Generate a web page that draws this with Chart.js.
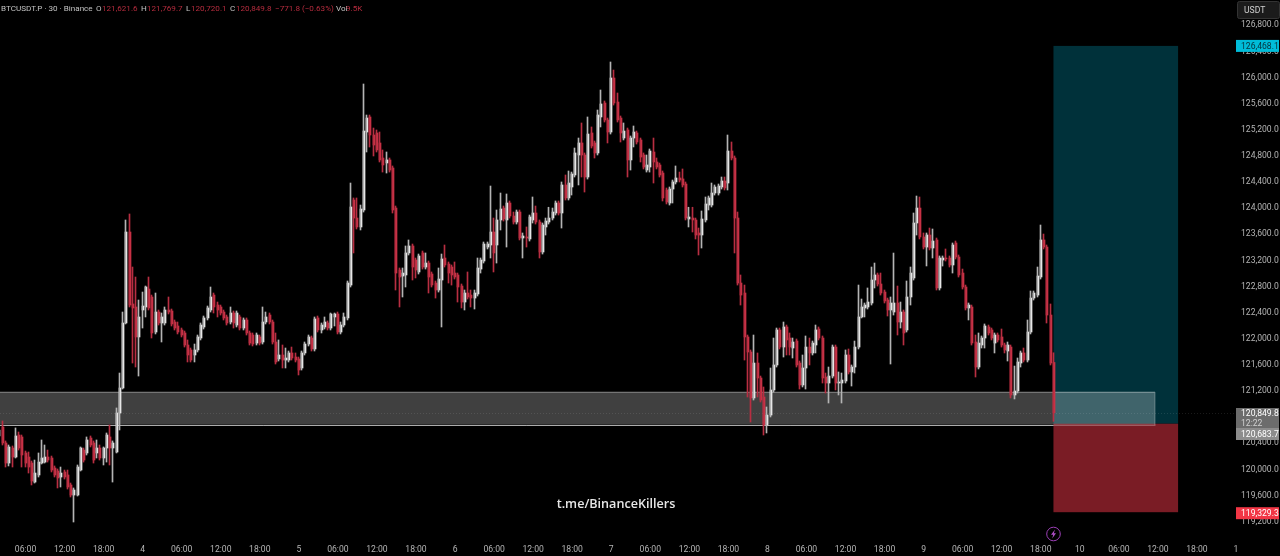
<!DOCTYPE html>
<html>
<head>
<meta charset="utf-8">
<title>BTCUSDT.P 30</title>
<script src="https://cdn.jsdelivr.net/npm/chart.js@4"></script>
<style>
html, body { margin: 0; padding: 0; background: #000; overflow: hidden; }
#wrap { position: relative; width: 1280px; height: 556px; }
#head span { position: absolute; top: 3px; font: 8.1px Roboto, sans-serif; white-space: nowrap; color: #c4c4c4; }
#head span.r { color: #b62c3e; }
</style>
</head>
<body>
<div id="wrap">
<canvas id="chart" width="1280" height="556"></canvas>
<div id="head">
<span style="left:1px">BTCUSDT.P · 30 · Binance</span>
<span style="left:96px">O</span><span class="r" style="left:102px">121,621.6</span>
<span style="left:141px">H</span><span class="r" style="left:147px">121,769.7</span>
<span style="left:186px">L</span><span class="r" style="left:191px">120,720.1</span>
<span style="left:230px">C</span><span class="r" style="left:236px">120,849.8</span>
<span class="r" style="left:275px">−771.8 (−0.63%)</span>
<span style="left:336px">Vol</span><span class="r" style="left:346px">9.5K</span>
</div>
</div>
<script>
var tickLabels = ["", "06:00", "12:00", "18:00", "4", "06:00", "12:00", "18:00", "5", "06:00", "12:00", "18:00", "6", "06:00", "12:00", "18:00", "7", "06:00", "12:00", "18:00", "8", "06:00", "12:00", "18:00", "9", "06:00", "12:00", "18:00", "10", "06:00", "12:00", "18:00", "1"];
var priceTicks = [119200, 119600, 120000, 120400, 120800, 121200, 121600, 122000, 122400, 122800, 123200, 123600, 124000, 124400, 124800, 125200, 125600, 126000, 126400, 126800];

var opens = [120496,120634,120389,120082,120312,120174,120511,120481,120236,120174,
120082,119791,119899,120082,120097,120174,120159,120006,119960,119868,
119945,119899,119746,119592,119592,119975,120281,120236,120465,120389,
120236,120312,120159,120312,120481,120312,120251,120848,121231,122226,
123619,122517,122471,122012,122425,122471,122746,122624,122088,122394,
122226,122226,122425,122410,122241,122180,122119,122073,121889,121813,
121736,121813,121996,122165,122303,122425,122654,122501,122471,122394,
122318,122241,122379,122195,122318,122149,122272,122073,122042,121919,
122012,121935,122241,122348,122241,121935,121675,121736,121659,121659,
121767,121705,121675,121537,121767,121904,121996,121828,122303,122119,
122165,122226,122149,122318,122364,122088,122195,122303,122807,124109,
123833,123696,123956,125150,125380,125104,125135,124982,124752,124676,
124722,124599,123986,123037,122945,122961,123298,123405,123190,123007,
123298,123083,123144,122976,122838,122731,122884,123221,123129,123083,
122991,122961,122792,122547,122685,122654,122608,122670,123052,123175,
123389,123420,123619,123420,123803,123986,123803,124063,123864,123772,
123925,123527,123543,123512,123803,123910,123772,123313,123696,123772,
123833,123910,124063,123910,124339,124140,124308,124492,124798,124982,
124798,124461,125135,124982,124829,125380,125594,125334,125150,125977,
125609,125364,125058,125181,124722,125058,125135,125028,124798,124568,
124614,124844,124691,124645,124522,124262,124063,124277,124385,124446,
124431,124354,123818,123833,123803,123604,123573,123803,124032,124032,
124216,124216,124308,124400,124369,124859,124752,123833,122838,122685,
122012,121782,121078,121613,121384,121093,120664,120817,121200,121583,
122119,121858,122165,121996,121843,121950,121613,121277,121537,121858,
121767,121889,122134,121996,121399,121307,121414,121858,121307,121307,
121338,121736,121476,121552,121858,122318,122456,122471,122532,122884,
122961,122823,122700,122578,122425,122394,122532,122241,122394,122119,
122624,122915,123757,123986,123543,123389,123573,123374,123497,122762,
123190,123221,123221,123114,123451,123236,122991,122777,122456,122471,
121935,121552,121889,121996,122165,122119,121919,122042,122012,121889,
121797,121858,121124,121185,121613,121767,121659,122088,122608,122654,
122930,123497,123389,122348,121621.6];

var highs = [120619,120726,120420,120358,120343,120619,120557,120511,120266,120251,
120113,120128,120236,120435,120358,120281,120189,120037,119991,120021,
119975,119975,119776,119700,120052,120328,120312,120481,120496,120420,
120435,120358,120328,120542,120664,120420,120925,121460,122394,123803,
123895,123083,122930,122578,122700,122792,122930,122654,122685,122425,
122379,122471,122624,122440,122272,122241,122149,122103,121966,121843,
121904,122042,122226,122333,122486,122777,122685,122547,122501,122425,
122348,122471,122410,122410,122348,122303,122303,122103,122073,122073,
122042,122471,122394,122379,122272,122073,121966,121889,121843,121797,
121858,121767,121705,121797,121935,122042,122027,122318,122333,122226,
122318,122257,122379,122379,122394,122241,122379,122869,124369,124140,
124140,124032,125885,125410,125410,125211,125181,125150,124875,124844,
124752,124630,124017,123068,123068,123405,123497,123435,123221,123282,
123328,123298,123175,123007,122869,123068,123282,123420,123160,123114,
123160,122991,122823,122731,123007,122731,122731,123221,123221,123466,
123466,124323,123833,123956,124216,124017,124201,124094,123925,123956,
123956,123604,123696,123879,124155,124017,123803,123757,123833,123998,
123986,124094,124094,124385,124492,124553,124537,124905,125058,125288,
124829,125380,125227,125012,125487,125793,125625,125364,126222,126099,
125747,125395,125288,125211,125089,125242,125165,125058,124829,124798,
124890,125058,124752,124675,124553,124293,124308,124415,124630,124537,
124584,124385,123998,123998,123833,123680,123941,124155,124170,124369,
124339,124354,124461,124461,125104,124997,124783,123925,122961,122807,
122042,121813,122042,121767,121414,121246,120940,121537,121996,122149,
122149,122241,122195,122073,121996,121981,121644,121736,122027,121996,
121950,122195,122165,122027,121460,121552,121889,121889,121476,121460,
121813,121828,121583,121950,122807,122593,122532,122762,123083,123144,
122991,122991,122731,122608,122624,123297,122792,122547,122425,122869,
123083,123910,124170,124155,123604,123604,123680,123665,123527,123252,
123252,123359,123252,123451,123481,123267,123052,122807,122532,122501,
122042,122073,122027,122211,122195,122149,122073,122073,122134,121919,
121935,121889,121567,121690,121797,121843,122272,122716,122716,123083,
123726,123588,123420,122517,121769.7];

var lows = [120465,120358,120021,120037,120021,120159,120281,120021,120021,119929,
119746,119776,119868,120067,120082,120097,119945,119868,119700,119715,
119837,119684,119562,119179,119577,119960,120097,120205,120328,120082,
120159,120128,120052,120097,120052,119791,120236,120588,121215,122211,
122471,121613,121552,121414,122149,122318,122425,121996,122058,122195,
121935,122195,122364,122180,122119,122058,122012,121858,121629,121629,
121629,121782,121966,122134,122272,122394,122379,122318,122348,122272,
122195,122211,122149,122165,122119,122119,122042,121889,121874,121889,
121889,121904,122211,122211,121904,121598,121644,121537,121537,121629,
121659,121629,121430,121506,121736,121874,121797,121797,122088,122073,
122134,122119,122119,122180,122058,122058,122165,122272,122777,123298,
123665,123650,123925,124844,124920,124783,124844,124691,124537,124522,
124537,123910,122731,122471,122624,122777,123267,122884,122915,122976,
123052,123052,122685,122777,122608,122700,122165,123083,122838,122807,
122899,122547,122456,122425,122593,122471,122440,122639,122991,123144,
123359,123221,123007,123144,123650,123787,123389,123833,123741,123741,
123497,123221,123389,123481,123757,123741,123221,123282,123573,123741,
123803,123879,123879,123680,124109,124109,124185,124461,124339,124461,
124231,124430,124905,124752,124798,125227,125303,124982,125119,125563,
125303,124997,125028,124461,124568,124921,124966,124691,124584,124537,
124537,124369,124584,124461,124094,124048,124032,124063,124354,124385,
124308,123803,123696,123619,123512,123267,123374,123772,123956,124002,
124185,124185,124277,124262,124262,124722,123298,122807,122501,121659,
121093,120710,121047,121093,121016,120511,120542,120787,121169,121552,
121828,121705,121736,121736,121690,121552,121215,121246,121215,121583,
121736,121767,121966,121307,121154,121001,121384,121200,121124,121001,
121307,121445,121261,121460,121828,122303,122318,122440,122501,122762,
122792,122654,122532,122333,121598,122348,122042,122149,121889,122088,
122501,122884,123573,123512,123359,123099,123344,123221,122731,122731,
123098,123175,123083,122991,123206,122930,122746,122425,122272,121889,
121399,121522,121843,121843,122042,121966,121767,121935,121858,121767,
121644,121078,121063,121154,121552,121629,121629,122058,122578,122624,
122899,123359,122226,121583,120720.1];

var closes = [120588,120389,120082,120328,120174,120496,120312,120205,120082,120021,
119807,119929,120097,120159,120174,120128,119975,119899,119853,119929,
119868,119715,119592,119669,120021,120312,120128,120435,120358,120128,
120312,120159,120312,120511,120312,120389,120848,121231,122226,123619,
122501,122456,122012,122318,122486,122777,122456,122073,122394,122226,
122318,122425,122394,122211,122149,122088,122042,121889,121736,121659,
121813,122012,122195,122303,122456,122624,122471,122425,122379,122303,
122226,122379,122226,122379,122149,122272,122073,121919,121904,122042,
121919,122241,122318,122241,121935,121629,121736,121659,121690,121767,
121690,121659,121506,121767,121904,122012,121828,122287,122119,122195,
122241,122149,122364,122364,122088,122195,122318,122838,124002,123833,
123696,123971,125165,125364,125104,124951,124875,124722,124645,124722,
124568,123956,122991,122930,122991,123298,123405,123083,123037,123252,
123083,123144,122930,122808,122731,122899,123206,123114,122991,122961,
122930,122777,122547,122685,122624,122608,122685,123068,123190,123435,
123435,123619,123298,123803,123971,123818,124063,123864,123772,123925,
123527,123558,123527,123849,123910,123772,123313,123726,123787,123833,
123925,124063,123910,124339,124140,124369,124507,124829,124982,124798,
124461,125119,124936,124829,125410,125579,125334,125150,125977,125594,
125334,125135,125165,124722,125058,125150,124997,124767,124614,124645,
124859,124691,124614,124492,124140,124078,124277,124385,124446,124415,
124339,123833,123849,123803,123573,123573,123818,124048,124140,124216,
124308,124323,124400,124293,124859,124752,123833,122838,122654,122012,
121782,121078,121613,121384,121047,120664,120817,121200,121583,122119,
121858,122165,121966,121858,121935,121583,121277,121537,121858,121767,
121919,122119,121996,121384,121307,121414,121858,121307,121323,121353,
121736,121476,121552,121858,122318,122471,122501,122547,122884,122961,
122823,122685,122563,122425,122532,122532,122241,122394,122073,122624,
122991,123757,123986,123543,123389,123573,123374,123481,122762,123221,
123221,123206,123114,123420,123236,122961,122777,122456,122501,121920,
121552,121919,121996,122180,122073,121996,122042,121966,121889,121813,
121889,121124,121185,121629,121767,121659,122088,122608,122685,122945,
123497,123389,122348,121613,120849.8];

// tick index of the first candle, one tick every 12 bars
var firstBar = 4;
var xMin = 4.154, xMax = 384;
var yMin = 118888.3, yMax = 127171;

var lastPrice = 120849.8;
var targetPrice = 126468.1;
var entryPrice = 120683.7;
var stopPrice = 119329.3;
var zoneTop = 121177, zoneBottom = 120670;
var zoneEndBar = 359.1;
var tradeStartBar = 327.9, tradeEndBar = 366.2;

var upColor = "#ffffff", downColor = "#d03348";
var upWick = "#b4b4b4", downWick = "#b82e42";

function fmt(v) {
  return v.toLocaleString("en-US", { minimumFractionDigits: 1, maximumFractionDigits: 1 });
}

var barX = closes.map(function (c, i) { return i + firstBar; });
var isUp = closes.map(function (c, i) { return c >= opens[i]; });

var overlays = {
  id: "overlays",
  // keep candles on whole pixels so they stay crisp
  afterDatasetsUpdate: function (chart) {
    chart.getDatasetMeta(0).data.forEach(function (el) { el.x = Math.round(el.x) - 0.5; });
    chart.getDatasetMeta(1).data.forEach(function (el) { el.x = Math.round(el.x); });
  },
  beforeDatasetsDraw: function (chart) {
    var c = chart.ctx, x = chart.scales.x, y = chart.scales.y;
    var px = function (v) { return x.getPixelForValue(v); };
    var py = function (v) { return y.getPixelForValue(v); };
    c.save();
    // long position box
    c.fillStyle = "#00313a";
    c.fillRect(px(tradeStartBar), py(targetPrice), px(tradeEndBar) - px(tradeStartBar), py(entryPrice) - py(targetPrice));
    c.fillStyle = "#7a1c25";
    c.fillRect(px(tradeStartBar), py(entryPrice), px(tradeEndBar) - px(tradeStartBar), py(stopPrice) - py(entryPrice));
    // grey zone
    var zx1 = px(zoneEndBar), zt = py(zoneTop), zb = py(zoneBottom);
    c.fillStyle = "rgba(255,255,255,0.25)";
    c.fillRect(0, zt, zx1, zb - zt);
    c.strokeStyle = "rgba(255,255,255,0.28)";
    c.lineWidth = 1;
    c.strokeRect(-2, Math.round(zt) + 0.5, zx1 + 2, Math.round(zb) - Math.round(zt));
    c.strokeStyle = "rgba(255,255,255,0.55)";
    c.beginPath();
    c.moveTo(0, Math.round(zb) + 0.5);
    c.lineTo(px(tradeStartBar), Math.round(zb) + 0.5);
    c.stroke();
    // last price line
    c.strokeStyle = "rgba(255,255,255,0.1)";
    c.setLineDash([1, 2]);
    c.beginPath();
    c.moveTo(0, Math.round(py(lastPrice)) + 0.5);
    c.lineTo(chart.chartArea.right, Math.round(py(lastPrice)) + 0.5);
    c.stroke();
    c.restore();
  },
  afterDraw: function (chart) {
    var c = chart.ctx, y = chart.scales.y;
    var right = chart.chartArea.right;
    c.save();
    c.textBaseline = "middle";
    c.font = "8.6px Roboto, sans-serif";
    var tag = function (top, h, bg, txt, color) {
      c.fillStyle = bg;
      c.fillRect(right, top, 43, h);
      if (txt) {
        c.fillStyle = color;
        c.fillText(txt, right + 5, top + h / 2 + 0.5);
      }
    };
    tag(y.getPixelForValue(targetPrice) - 6, 12, "#00bcd9", fmt(targetPrice), "#06323c");
    tag(408, 11, "#6c6c6c", fmt(lastPrice), "#ffffff");
    tag(419, 9, "#6c6c6c", "12:22", "#d0d0d0");
    tag(428, 12, "#8c8c8c", fmt(entryPrice), "#ffffff");
    tag(y.getPixelForValue(stopPrice) - 5, 12, "#f23645", fmt(stopPrice), "#ffffff");

    // currency button
    c.fillStyle = "#1b1b1b";
    c.strokeStyle = "#333333";
    c.beginPath();
    c.roundRect(1237.5, 1.5, 42, 17, 2);
    c.fill();
    c.stroke();
    c.fillStyle = "#cfcfcf";
    c.fillText("USDT", 1244, 10.5);

    // watermark
    c.font = "600 12.6px 'Open Sans', sans-serif";
    c.fillStyle = "#e6e6e6";
    c.textAlign = "center";
    c.fillText("t.me/BinanceKillers", 616, 504);

    // flash badge
    c.strokeStyle = "#9a3fb4";
    c.lineWidth = 1;
    c.beginPath();
    c.arc(1053.5, 534, 6.8, 0, Math.PI * 2);
    c.stroke();
    c.fillStyle = "#b04fc8";
    c.beginPath();
    c.moveTo(1055, 529.5);
    c.lineTo(1051, 534.8);
    c.lineTo(1053.2, 534.8);
    c.lineTo(1052.2, 538.5);
    c.lineTo(1056, 533.2);
    c.lineTo(1053.8, 533.2);
    c.closePath();
    c.fill();
    c.restore();
  }
};

new Chart(document.getElementById("chart").getContext("2d"), {
  type: "bar",
  data: {
    datasets: [{
      label: "wick",
      data: barX.map(function (x, i) { return { x: x, y: [lows[i], highs[i]] }; }),
      backgroundColor: isUp.map(function (u) { return u ? upWick : downWick; }),
      barThickness: 1,
      borderWidth: 0,
      borderSkipped: false,
      grouped: false
    }, {
      label: "body",
      data: barX.map(function (x, i) { return { x: x, y: [opens[i], closes[i]] }; }),
      backgroundColor: isUp.map(function (u) { return u ? upColor : downColor; }),
      barThickness: 2,
      borderWidth: 0,
      borderSkipped: false,
      grouped: false
    }]
  },
  options: {
    responsive: false,
    animation: false,
    layout: { padding: 0 },
    plugins: {
      legend: { display: false },
      tooltip: { enabled: false }
    },
    scales: {
      x: {
        type: "linear",
        offset: false,
        min: xMin,
        max: xMax,
        grid: { display: false, drawTicks: false },
        border: { display: false },
        afterFit: function (s) { s.height = 15; s.paddingLeft = 0; s.paddingRight = 0; },
        ticks: {
          stepSize: 12,
          autoSkip: false,
          maxRotation: 0,
          includeBounds: false,
          padding: 4,
          color: "#b4b4b4",
          font: { size: 8.6, family: "Roboto" },
          callback: function (v) { return tickLabels[v / 12]; }
        }
      },
      y: {
        position: "right",
        min: yMin,
        max: yMax,
        grid: { display: false, drawTicks: false },
        border: { display: false },
        afterBuildTicks: function (s) { s.ticks = priceTicks.map(function (v) { return { value: v }; }); },
        afterFit: function (s) { s.width = 44; s.paddingTop = 0; s.paddingBottom = 0; },
        ticks: {
          autoSkip: false,
          padding: 5,
          labelOffset: 1,
          color: "#b4b4b4",
          font: { size: 8.6, family: "Roboto" },
          callback: function (v) { return fmt(v); }
        }
      }
    }
  },
  plugins: [overlays]
});
</script>
</body>
</html>
